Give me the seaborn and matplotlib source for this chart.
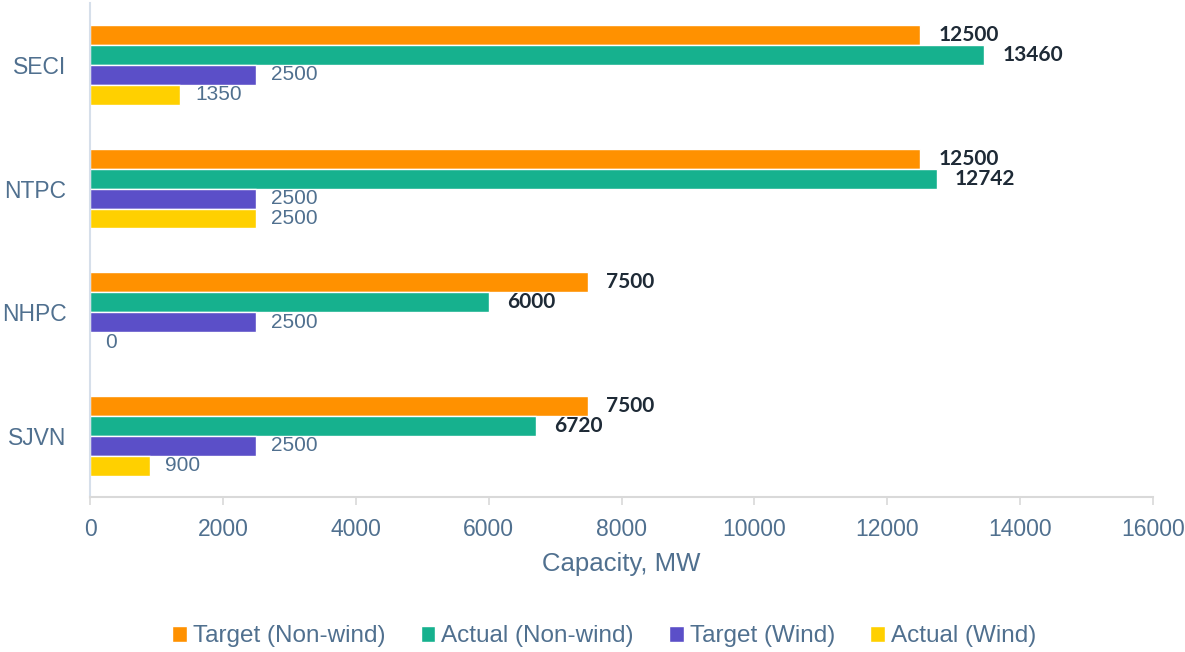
import matplotlib
matplotlib.use("Agg")
import matplotlib.pyplot as plt
import seaborn as sns
import pandas as pd

# data
companies = ["SECI", "NTPC", "NHPC", "SJVN"]
series = ["Target (Non-wind)", "Actual (Non-wind)", "Target (Wind)", "Actual (Wind)"]
target_nonwind = [12500, 12500, 7500, 7500]
actual_nonwind = [13460, 12742, 6000, 6720]
target_wind = [2500, 2500, 2500, 2500]
actual_wind = [1350, 2500, 0, 900]
colors = ["#FF9100", "#16B18E", "#5B4FC8", "#FFD000"]

rows = []
for name, vals in zip(series, [target_nonwind, actual_nonwind, target_wind, actual_wind]):
    for c, v in zip(companies, vals):
        rows.append({"company": c, "series": name, "value": v})
df = pd.DataFrame(rows)

sns.set_theme(style="white")
plt.rcParams["font.family"] = ["Liberation Sans", "DejaVu Sans"]
slate = "#50708F"

fig = plt.figure(figsize=(11.85, 6.52), dpi=100)
ax = fig.add_axes([0.076, 0.237, 0.897, 0.758])

sns.barplot(data=df, x="value", y="company", hue="series", order=companies,
            hue_order=series, palette=colors, orient="h", width=0.645,
            saturation=1, ax=ax, legend=True)

# value labels: non-wind bold dark, wind plain slate
for i, cont in enumerate(ax.containers):
    if i < 2:
        ax.bar_label(cont, labels=[f"{int(v)}" for v in cont.datavalues], padding=13,
                     fontsize=15, fontweight="bold", color="#1E2A36", family="Lato")
    else:
        ax.bar_label(cont, labels=[f"{int(v)}" for v in cont.datavalues], padding=11,
                     fontsize=15, color=slate)

ax.set_xlim(0, 16000)
ax.set_xticks(range(0, 16001, 2000))
ax.set_xlabel("Capacity, MW", fontsize=18.5, color=slate, labelpad=8)
ax.set_ylabel("")
ax.tick_params(axis="x", bottom=True, colors="#D9D9D9", length=6, width=1.2,
               direction="out", labelcolor=slate, labelsize=16.5, pad=9)
ax.tick_params(axis="y", length=0, labelcolor=slate, labelsize=16.5, pad=17)

for s in ["top", "right"]:
    ax.spines[s].set_visible(False)
ax.spines["left"].set_color("#D6DFEA")
ax.spines["left"].set_linewidth(1.5)
ax.spines["bottom"].set_color("#D9D9D9")
ax.spines["bottom"].set_linewidth(1.5)

handles, labels = ax.get_legend_handles_labels()
ax.get_legend().remove()
fig.legend(handles, labels, loc="center", bbox_to_anchor=(0.51, 0.024), ncol=4,
           frameon=False, fontsize=17.5, labelcolor=slate, handlelength=0.6,
           handleheight=0.6, handletextpad=0.25, columnspacing=1.45)

fig.savefig("out.png", dpi=100)
